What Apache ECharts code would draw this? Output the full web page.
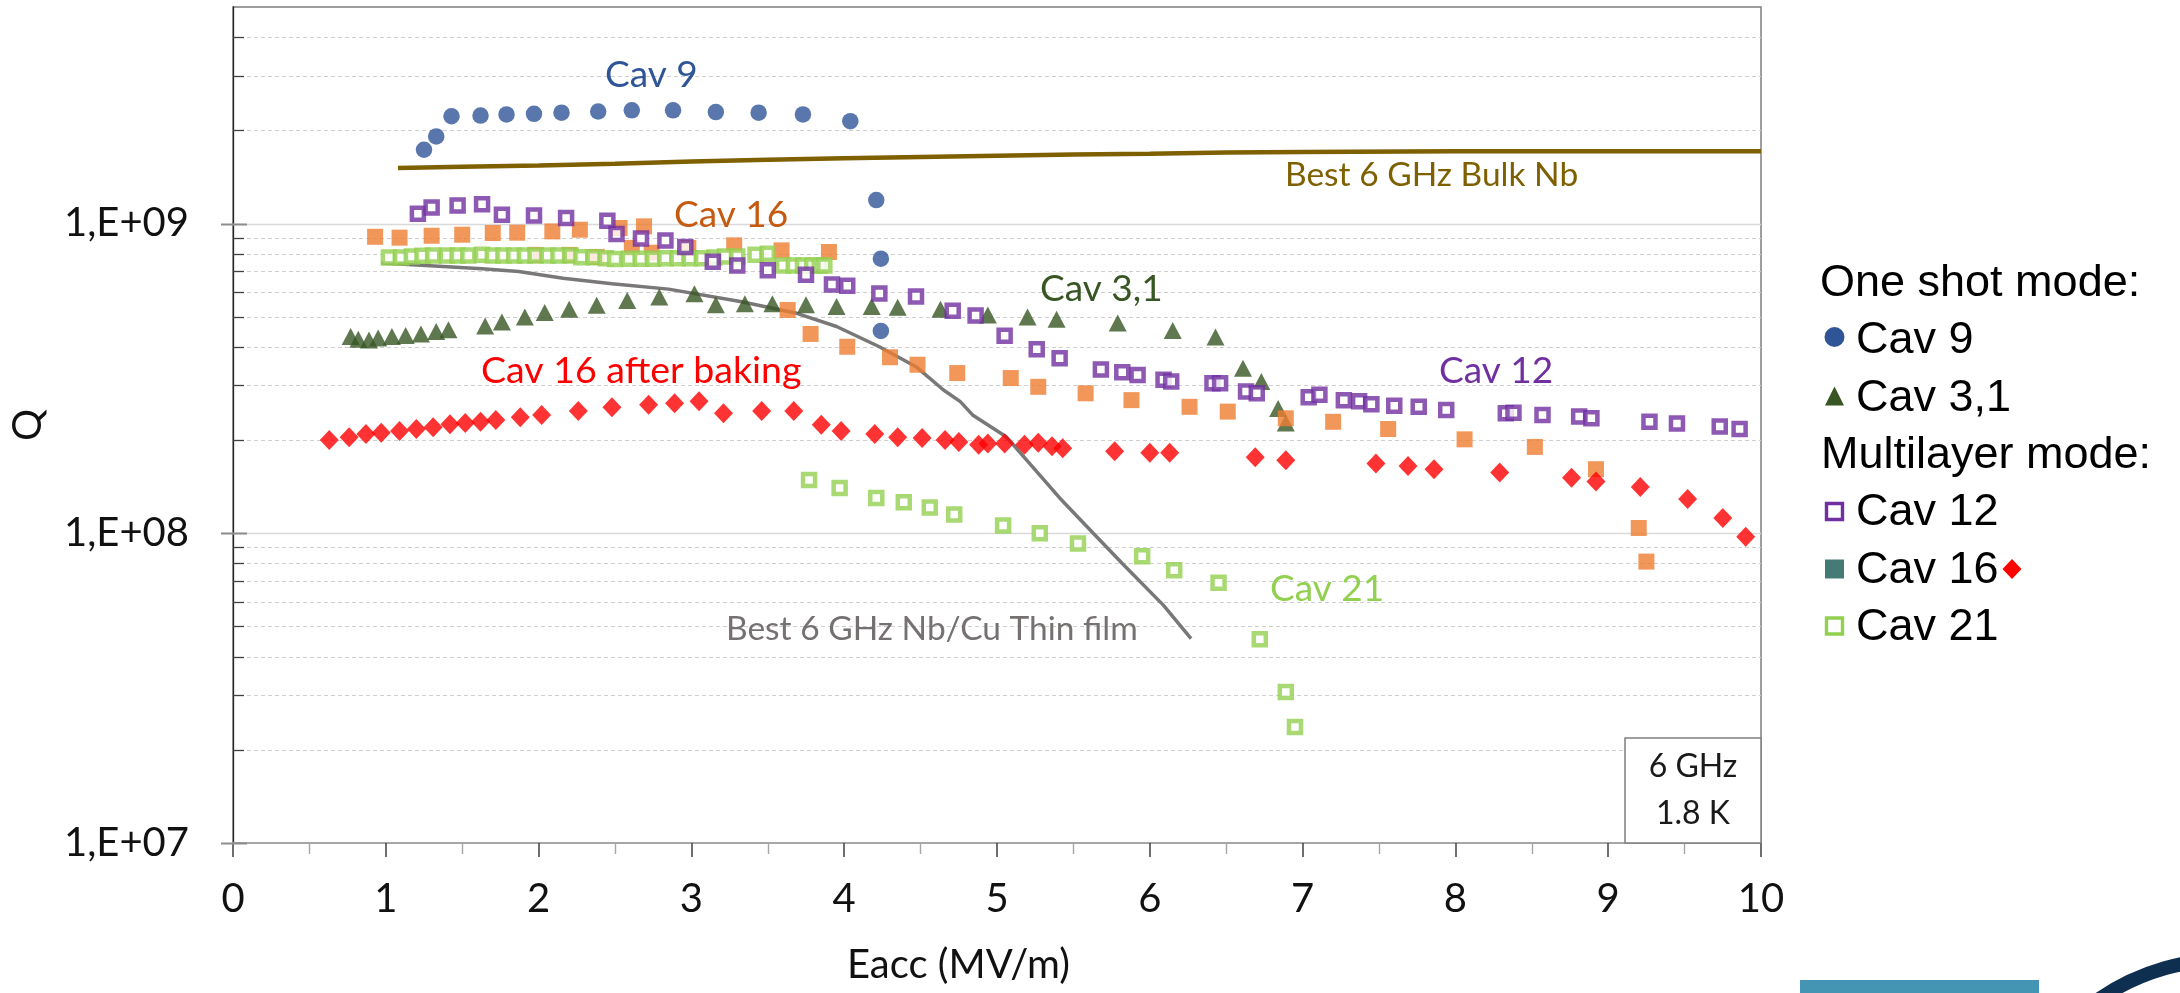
<!DOCTYPE html>
<html>
<head>
<meta charset="utf-8">
<title>Q vs Eacc – 6 GHz cavities</title>
<script src="https://cdn.jsdelivr.net/npm/echarts/dist/echarts.min.js"></script>
<style>
  html, body { margin: 0; padding: 0; background: #ffffff; }
  #chart { width: 2180px; height: 993px; }
</style>
</head>
<body>
<div id="chart"></div>
<script>
// ---- Measured data: [Eacc (MV/m), Q0] ----
const cav9 = [
  [1.25, 1.73e9], [1.33, 1.91e9], [1.43, 2.22e9], [1.62, 2.23e9], [1.79, 2.25e9],
  [1.97, 2.26e9], [2.15, 2.28e9], [2.39, 2.30e9], [2.61, 2.32e9], [2.88, 2.32e9],
  [3.16, 2.29e9], [3.44, 2.28e9], [3.73, 2.25e9], [4.04, 2.14e9], [4.21, 1.19e9],
  [4.24, 7.7e8], [4.24, 4.5e8]
];

const cav31 = [
  [0.77, 4.32e8], [0.82, 4.23e8], [0.89, 4.21e8], [0.95, 4.27e8], [1.04, 4.32e8],
  [1.13, 4.35e8], [1.23, 4.40e8], [1.33, 4.48e8], [1.41, 4.54e8], [1.65, 4.67e8],
  [1.76, 4.81e8], [1.91, 4.99e8], [2.04, 5.16e8], [2.20, 5.29e8], [2.38, 5.45e8],
  [2.58, 5.64e8], [2.79, 5.79e8], [3.02, 5.93e8], [3.16, 5.47e8], [3.35, 5.51e8],
  [3.53, 5.51e8], [3.75, 5.47e8], [3.95, 5.40e8], [4.18, 5.40e8], [4.35, 5.37e8],
  [4.63, 5.29e8], [4.94, 5.07e8], [5.20, 4.99e8], [5.39, 4.91e8], [5.79, 4.77e8],
  [6.15, 4.51e8], [6.43, 4.30e8], [6.61, 3.41e8], [6.73, 3.09e8], [6.84, 2.53e8],
  [6.89, 2.27e8]
];

const cav12 = [
  [1.21, 1.076e9], [1.30, 1.127e9], [1.47, 1.144e9], [1.63, 1.153e9], [1.76, 1.068e9],
  [1.97, 1.062e9], [2.18, 1.041e9], [2.45, 1.021e9], [2.51, 9.25e8], [2.67, 8.95e8],
  [2.83, 8.82e8], [2.96, 8.39e8], [3.14, 7.52e8], [3.30, 7.32e8], [3.50, 7.06e8],
  [3.75, 6.83e8], [3.92, 6.36e8], [4.02, 6.29e8], [4.23, 5.94e8], [4.47, 5.81e8],
  [4.71, 5.23e8], [4.86, 5.05e8], [5.05, 4.34e8], [5.26, 3.93e8], [5.41, 3.67e8],
  [5.68, 3.38e8], [5.82, 3.31e8], [5.92, 3.24e8], [6.09, 3.13e8], [6.14, 3.09e8],
  [6.41, 3.05e8], [6.46, 3.05e8], [6.63, 2.87e8], [6.70, 2.83e8], [7.04, 2.75e8],
  [7.11, 2.80e8], [7.27, 2.69e8], [7.37, 2.67e8], [7.45, 2.61e8], [7.60, 2.58e8],
  [7.76, 2.56e8], [7.94, 2.50e8], [8.33, 2.44e8], [8.38, 2.45e8], [8.57, 2.41e8],
  [8.81, 2.38e8], [8.89, 2.35e8], [9.27, 2.29e8], [9.45, 2.26e8], [9.73, 2.21e8],
  [9.86, 2.17e8]
];

const cav16 = [
  [0.93, 9.06e8], [1.09, 9.00e8], [1.30, 9.13e8], [1.50, 9.20e8], [1.70, 9.32e8],
  [1.86, 9.34e8], [2.09, 9.43e8], [2.27, 9.55e8], [2.53, 9.67e8], [2.69, 9.79e8],
  [1.98, 7.92e8], [2.20, 7.92e8], [2.38, 7.80e8], [2.61, 8.34e8], [2.74, 8.05e8],
  [2.98, 8.34e8], [3.28, 8.50e8], [3.59, 8.19e8], [3.90, 8.09e8],
  [3.63, 5.26e8], [3.78, 4.40e8], [4.02, 4.00e8], [4.30, 3.70e8], [4.48, 3.50e8],
  [4.74, 3.29e8], [5.09, 3.17e8], [5.27, 2.97e8], [5.58, 2.83e8], [5.88, 2.69e8],
  [6.26, 2.56e8], [6.51, 2.47e8], [6.89, 2.35e8], [7.20, 2.29e8], [7.56, 2.17e8],
  [8.06, 2.01e8], [8.52, 1.90e8], [8.92, 1.61e8], [9.20, 1.04e8], [9.25, 8.1e7]
];

const cav16Baked = [
  [0.63, 2.00e8], [0.76, 2.04e8], [0.87, 2.09e8], [0.97, 2.11e8], [1.09, 2.14e8],
  [1.20, 2.17e8], [1.31, 2.20e8], [1.42, 2.25e8], [1.52, 2.27e8], [1.62, 2.29e8],
  [1.72, 2.32e8], [1.88, 2.37e8], [2.02, 2.41e8], [2.26, 2.48e8], [2.48, 2.55e8],
  [2.72, 2.60e8], [2.89, 2.63e8], [3.05, 2.67e8], [3.21, 2.44e8], [3.46, 2.48e8],
  [3.67, 2.48e8], [3.85, 2.24e8], [3.98, 2.14e8], [4.20, 2.09e8], [4.35, 2.04e8],
  [4.51, 2.03e8], [4.66, 2.00e8], [4.75, 1.97e8], [4.88, 1.93e8], [4.94, 1.95e8],
  [5.05, 1.95e8], [5.18, 1.93e8], [5.27, 1.96e8], [5.36, 1.91e8], [5.43, 1.88e8],
  [5.77, 1.84e8], [6.00, 1.82e8], [6.13, 1.82e8], [6.69, 1.76e8], [6.89, 1.72e8],
  [7.48, 1.68e8], [7.69, 1.65e8], [7.86, 1.61e8], [8.29, 1.57e8], [8.76, 1.51e8],
  [8.92, 1.47e8], [9.21, 1.41e8], [9.52, 1.29e8], [9.75, 1.12e8], [9.90, 9.74e7]
];

const cav21 = [
  [1.02, 7.77e8], [1.10, 7.77e8], [1.17, 7.83e8], [1.24, 7.87e8], [1.31, 7.89e8],
  [1.40, 7.89e8], [1.47, 7.89e8], [1.54, 7.89e8], [1.63, 7.92e8], [1.70, 7.89e8],
  [1.77, 7.89e8], [1.84, 7.89e8], [1.91, 7.89e8], [1.98, 7.89e8], [2.06, 7.89e8],
  [2.13, 7.89e8], [2.21, 7.89e8], [2.28, 7.78e8], [2.36, 7.78e8], [2.44, 7.73e8],
  [2.50, 7.68e8], [2.59, 7.70e8], [2.67, 7.70e8], [2.75, 7.70e8], [2.83, 7.73e8],
  [2.91, 7.73e8], [2.99, 7.73e8], [3.07, 7.73e8], [3.15, 7.77e8], [3.22, 7.83e8],
  [3.30, 7.83e8], [3.42, 7.92e8], [3.50, 7.99e8], [3.60, 7.32e8], [3.67, 7.32e8],
  [3.73, 7.32e8], [3.79, 7.32e8], [3.84, 7.32e8], [3.87, 7.32e8],
  [3.77, 1.485e8], [3.97, 1.40e8], [4.21, 1.30e8], [4.39, 1.26e8], [4.56, 1.21e8],
  [4.72, 1.15e8], [5.04, 1.06e8], [5.28, 1.00e8], [5.53, 9.27e7], [5.95, 8.43e7],
  [6.16, 7.60e7], [6.45, 6.92e7], [6.72, 4.55e7], [6.89, 3.07e7], [6.95, 2.37e7]
];

// Reference curves
const bulkNb = [
  [1.08, 1.51e9], [1.5, 1.525e9], [2.0, 1.54e9], [2.5, 1.56e9], [3.0, 1.585e9],
  [3.5, 1.605e9], [4.0, 1.625e9], [4.5, 1.64e9], [5.0, 1.655e9], [5.5, 1.67e9],
  [6.0, 1.68e9], [6.5, 1.695e9], [7.0, 1.70e9], [8.0, 1.71e9], [10.0, 1.71e9]
];

const nbCuFilm = [
  [0.97, 7.45e8], [1.29, 7.31e8], [1.63, 7.14e8], [1.87, 7.00e8], [2.16, 6.66e8],
  [2.48, 6.39e8], [2.85, 6.14e8], [3.32, 5.60e8], [3.69, 5.13e8], [3.95, 4.65e8],
  [4.23, 4.00e8], [4.47, 3.45e8], [4.65, 2.90e8], [4.76, 2.66e8], [4.84, 2.41e8],
  [5.06, 2.05e8], [5.27, 1.56e8], [5.41, 1.30e8], [5.63, 1.00e8], [5.82, 7.99e7],
  [6.09, 5.85e7], [6.27, 4.57e7]
];

// Axis ticks
const yDecades = [1e7, 1e8, 1e9];
const yTickLabels = ['1,E+07', '1,E+08', '1,E+09'];
const yMinorMantissas = [2, 3, 4, 5, 6, 7, 8, 9];

// ---- Styling ----
const FONT = "Lato, 'Liberation Sans', sans-serif";
const LEGEND_FONT = "'Liberation Sans', Arial, sans-serif";

// Grid lines + y ticks (log axis), major/minor flag in dim 2
const gridRows = [];
yDecades.forEach(d => {
  gridRows.push([0, d, 1]);
  yMinorMantissas.forEach(m => { if (m * d < 5e9) gridRows.push([0, m * d, 0]); });
});

function renderGrid(params, api) {
  const cs = params.coordSys;
  const v = api.value(1);
  const major = api.value(2) === 1;
  const y = Math.round(api.coord([0, v])[1]) + 0.5;
  const children = [];
  if (v > 1.0001e7) {
    children.push({
      type: 'line',
      shape: { x1: cs.x, y1: y, x2: cs.x + cs.width, y2: y },
      style: major
        ? { stroke: '#d9d9d9', lineWidth: 1.6 }
        : { stroke: '#cfcfcf', lineWidth: 1.2, lineDash: [4, 3] }
    });
  }
  children.push({
    type: 'line',
    shape: { x1: cs.x - (major ? 12 : 0), y1: y, x2: cs.x + (major ? 14 : 11), y2: y },
    style: { stroke: major ? '#8c8c8c' : '#404040', lineWidth: major ? 2 : 1.3 }
  });
  return { type: 'group', children };
}

function openSquare(color) {
  return { color: '#ffffff', borderColor: color, borderWidth: 4.5 };
}

function annot(text, x, baseline, color, size) {
  return {
    type: 'text', x: x, y: baseline - 0.36 * size, z: 50,
    style: { text: text, fill: color, font: `${size}px ${FONT}`, verticalAlign: 'middle', align: 'left' }
  };
}

function legendText(text, x, baseline) {
  return {
    type: 'text', x: x, y: baseline - 0.33 * 45, z: 50,
    style: { text: text, fill: '#000000', font: `45px ${LEGEND_FONT}`, verticalAlign: 'middle', align: 'left' }
  };
}

const chart = echarts.init(document.getElementById('chart'), null, { renderer: 'canvas' });

const option = {
  backgroundColor: '#ffffff',
  animation: false,
  grid: {
    left: 230, right: 419, top: 7, bottom: 150,
    show: true, borderColor: '#7f7f7f', borderWidth: 1.5, backgroundColor: 'transparent'
  },
  xAxis: {
    type: 'value', min: 0, max: 10, interval: 1,
    name: 'Eacc (MV/m)', nameLocation: 'middle', nameGap: 102,
    nameTextStyle: { fontFamily: FONT, fontSize: 40, color: '#111', padding: [0, 77, 0, 0] },
    axisLine: { show: true, lineStyle: { color: '#a6a6a6', width: 2 } },
    axisTick: { show: true, length: 14, lineStyle: { color: '#404040', width: 1.5 } },
    minorTick: { show: true, splitNumber: 2, length: 11, lineStyle: { color: '#a6a6a6', width: 1.4 } },
    splitLine: { show: false },
    axisLabel: { fontFamily: FONT, fontSize: 40, color: '#111', margin: 36 }
  },
  yAxis: {
    type: 'log', logBase: 10, min: 1e7, max: 5e9,
    name: 'Q', nameLocation: 'middle', nameGap: 185, nameRotate: 90,
    nameTextStyle: { fontFamily: FONT, fontSize: 40, color: '#111' },
    axisLine: { show: true, lineStyle: { color: '#262626', width: 1.3 } },
    axisTick: { show: false },
    splitLine: { show: false },
    axisLabel: {
      fontFamily: FONT, fontSize: 40, color: '#111', margin: 44, showMaxLabel: false,
      formatter: v => {
        const i = yDecades.findIndex(d => Math.abs(d - v) / d < 1e-6);
        return i >= 0 ? yTickLabels[i] : '';
      }
    }
  },
  series: [
    { type: 'custom', name: 'grid', z: 1, silent: true, clip: false, renderItem: renderGrid, data: gridRows },
    { type: 'line', name: 'Best 6 GHz Bulk Nb', data: bulkNb, showSymbol: false, symbol: 'none',
      lineStyle: { color: '#7f6000', width: 4.5 }, z: 3 },
    { type: 'line', name: 'Best 6 GHz Nb/Cu Thin film', data: nbCuFilm, showSymbol: false, symbol: 'none',
      lineStyle: { color: '#7a7777', width: 3.5 }, z: 3 },
    { type: 'scatter', name: 'Cav 3,1', data: cav31, symbol: 'triangle', symbolSize: [18, 17],
      itemStyle: { color: '#375623' }, z: 4 },
    { type: 'scatter', name: 'Cav 16', data: cav16, symbol: 'rect', symbolSize: 16,
      itemStyle: { color: '#ed7d31' }, z: 5 },
    { type: 'scatter', name: 'Cav 21', data: cav21, symbol: 'rect', symbolSize: 12,
      itemStyle: openSquare('#92d050'), z: 6 },
    { type: 'scatter', name: 'Cav 12', data: cav12, symbol: 'rect', symbolSize: 12,
      itemStyle: openSquare('#7030a0'), z: 7 },
    { type: 'scatter', name: 'Cav 16 after baking', data: cav16Baked, symbol: 'diamond', symbolSize: [19, 20],
      itemStyle: { color: '#ff0000' }, z: 8 },
    { type: 'scatter', name: 'Cav 9', data: cav9, symbol: 'circle', symbolSize: 16.5,
      itemStyle: { color: '#2f5597' }, z: 9 }
  ],
  graphic: [
    // in-plot annotations
    annot('Cav 9', 605, 88, '#2f5597', 37),
    annot('Best 6 GHz Bulk Nb', 1285, 187, '#7f6000', 33.5),
    annot('Cav 16', 674, 228, '#c55a11', 37),
    annot('Cav 3,1', 1040, 302, '#375623', 37),
    annot('Cav 16 after baking', 481, 384, '#ff0000', 37.5),
    annot('Cav 12', 1439, 384, '#7030a0', 37),
    annot('Cav 21', 1270, 602, '#92d050', 37),
    annot('Best 6 GHz Nb/Cu Thin film', 726, 641, '#767171', 33.5),

    // condition box
    { type: 'rect', z: 40, shape: { x: 1625, y: 738, width: 136, height: 105 },
      style: { fill: '#ffffff', stroke: '#7f7f7f', lineWidth: 1.5 } },
    { type: 'text', z: 41, x: 1693, y: 778 - 0.36 * 32,
      style: { text: '6 GHz', font: `32px ${FONT}`, fill: '#1a1a1a', align: 'center', verticalAlign: 'middle' } },
    { type: 'text', z: 41, x: 1693, y: 825 - 0.36 * 32,
      style: { text: '1.8 K', font: `32px ${FONT}`, fill: '#1a1a1a', align: 'center', verticalAlign: 'middle' } },

    // legend
    legendText('One shot mode:', 1820, 298),
    { type: 'circle', z: 50, shape: { cx: 1834.5, cy: 337, r: 10 }, style: { fill: '#2f5597' } },
    legendText('Cav 9', 1856, 355),
    { type: 'polygon', z: 50, shape: { points: [[1834.5, 386.5], [1844, 405.5], [1825, 405.5]] }, style: { fill: '#375623' } },
    legendText('Cav 3,1', 1856, 413),
    legendText('Multilayer mode:', 1821, 470),
    { type: 'rect', z: 50, shape: { x: 1826.5, y: 503.5, width: 16, height: 16 },
      style: { fill: '#ffffff', stroke: '#7030a0', lineWidth: 3.4 } },
    legendText('Cav 12', 1856, 527),
    { type: 'rect', z: 50, shape: { x: 1825, y: 559.5, width: 19, height: 19 }, style: { fill: '#467a76' } },
    legendText('Cav 16', 1856, 585),
    { type: 'polygon', z: 50, shape: { points: [[2012, 559], [2021.5, 569], [2012, 579], [2002.5, 569]] }, style: { fill: '#ff0000' } },
    { type: 'rect', z: 50, shape: { x: 1826.5, y: 618, width: 16, height: 16 },
      style: { fill: '#ffffff', stroke: '#92d050', lineWidth: 3.4 } },
    legendText('Cav 21', 1856, 642),

    // footer decoration
    { type: 'rect', z: 50, shape: { x: 1800, y: 980, width: 239, height: 13 }, style: { fill: '#4495b4' } },
    { type: 'arc', z: 50, shape: { cx: 2227.5, cy: 1187.5, r: 228, startAngle: -2.5, endAngle: -1.2 },
      style: { stroke: '#0e2f4f', lineWidth: 14, fill: null } }
  ]
};

chart.setOption(option);
</script>
</body>
</html>
